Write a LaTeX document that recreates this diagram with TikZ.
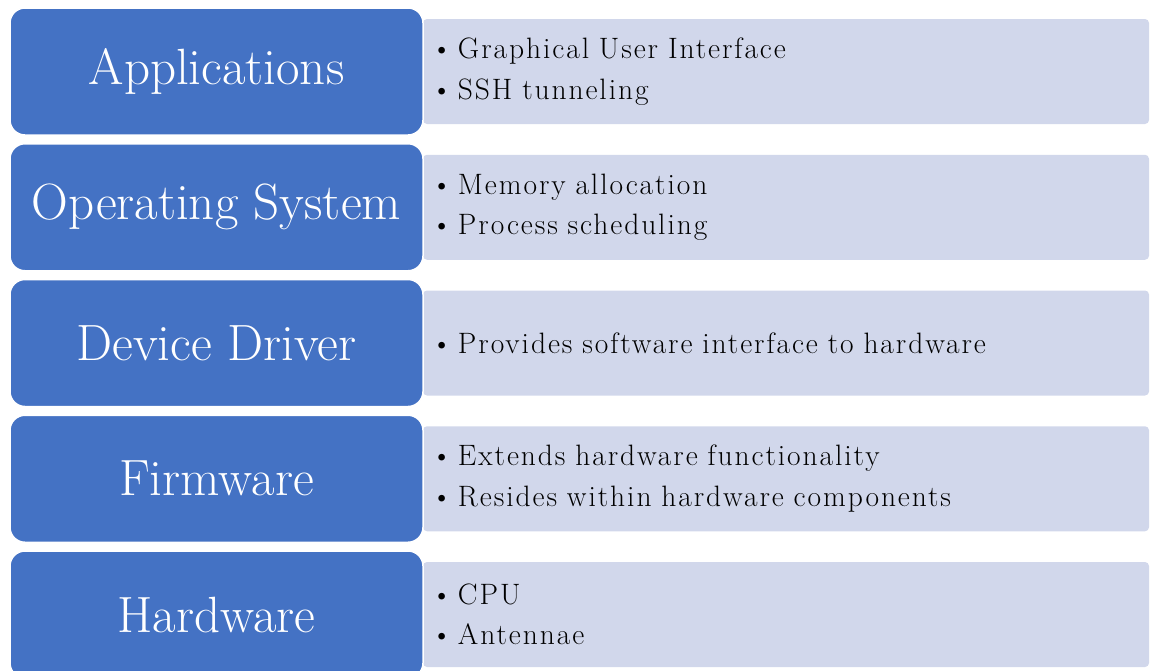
\documentclass[tikz,border=0pt]{standalone}
\usepackage{fontspec}
\usepackage{tikz}
\usetikzlibrary{positioning}
\newfontfamily\layerfont{Latin Modern Roman}
\newfontfamily\notesfont{Latin Modern Roman}[LetterSpace=6.5]
\definecolor{layerblue}{RGB}{68,114,196}
\definecolor{notefill}{RGB}{209,215,235}
\newcommand{\itm}{\makebox[27pt][l]{\textbullet}}

\tikzset{
  layer/.style={rectangle,rounded corners=15pt,fill=layerblue,draw=white,line width=1.5pt,
    minimum width=413pt,minimum height=127pt,text=white,font=\layerfont\fontsize{51}{53}\selectfont},
  layernotes/.style={rectangle,rounded corners=4pt,fill=notefill,minimum width=726pt,
    minimum height=105pt,text width=710pt,inner xsep=8pt,align=left,
    font=\notesfont\fontsize{29.5}{40.5}\selectfont}
}

\begin{document}
\begin{tikzpicture}[x=1pt,y=-1pt]
\useasboundingbox (0,0) rectangle (1150,670);
\clip (0,0) rectangle (1150,670);
% right hand lists first, the layers go on top
\node[layernotes] (appsnotes) at (786,71.5) {\itm Graphical User Interface\\\itm SSH tunneling};
\node[layernotes] (osnotes) at (786,207.25) {\itm Memory allocation\\\itm Process scheduling};
\node[layernotes] (drvnotes) at (786,343) {\itm Provides software interface to hardware};
\node[layernotes] (fwnotes) at (786,478.75) {\itm Extends hardware functionality\\\itm Resides within hardware components};
\node[layernotes] (hwnotes) at (786,614.5) {\itm CPU\\\itm Antennae};
% the stack
\node[layer] (apps) at (216.5,71.5) {Applications};
\node[layer] (os) at (216.5,207.25) {Operating System};
\node[layer] (drv) at (216.5,343) {Device Driver};
\node[layer] (fw) at (216.5,478.75) {Firmware};
\node[layer] (hw) at (216.5,614.5) {Hardware};
\end{tikzpicture}
\end{document}
